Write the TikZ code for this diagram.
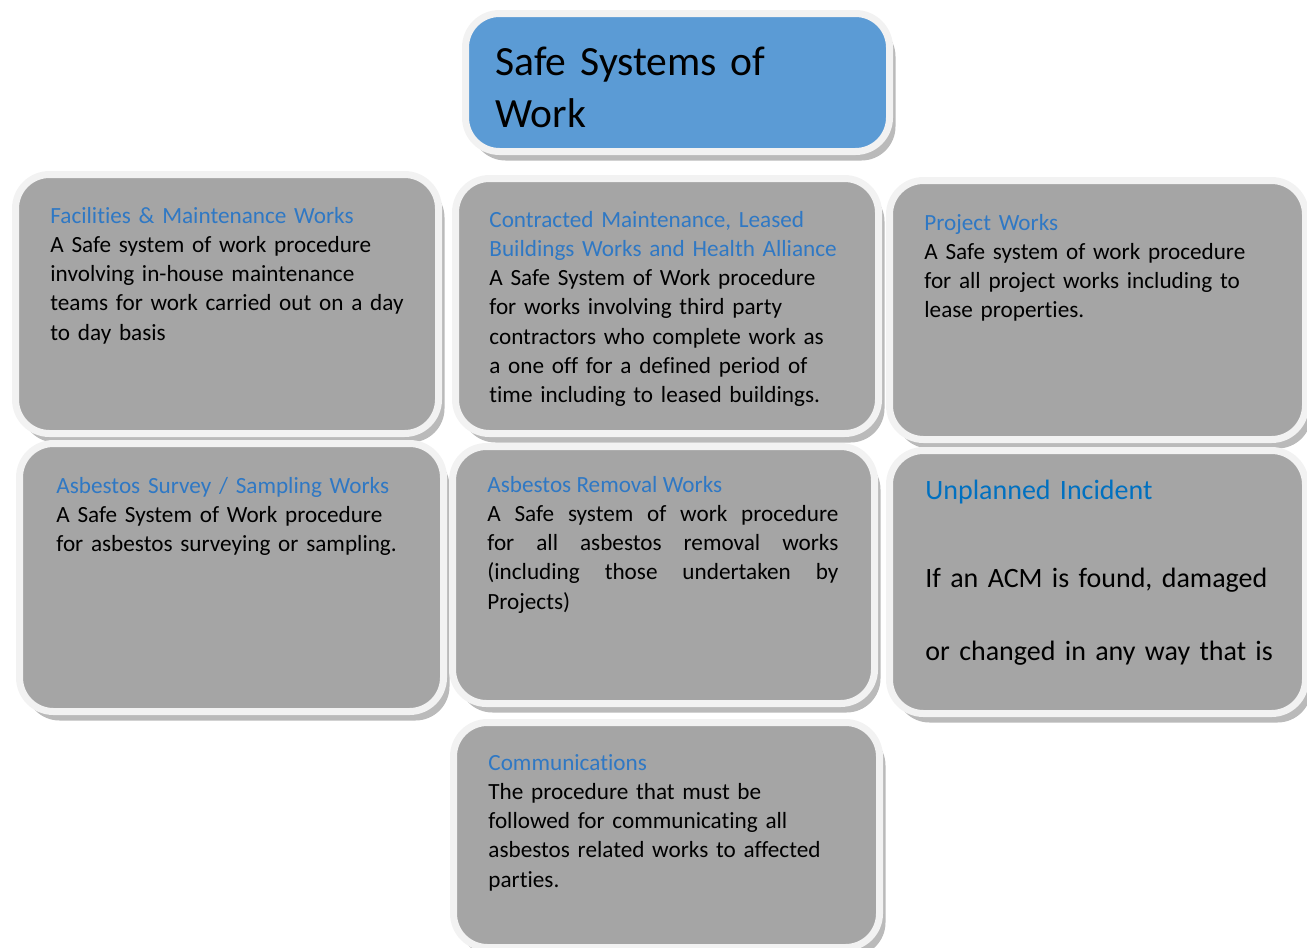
\documentclass[tikz,border=0pt]{standalone}
\usepackage{fontspec}
\setmainfont{Carlito}[Ligatures=NoCommon]
\usepackage{xcolor}
\usetikzlibrary{shadows}
\definecolor{panelgray}{HTML}{A5A5A5}
\definecolor{panelrim}{HTML}{F2F2F2}
\definecolor{titleblue}{HTML}{5B9BD5}
\definecolor{headblue}{HTML}{2F78C4}
\definecolor{incidentblue}{HTML}{0070C0}
\newcommand\panelhead[1]{\textcolor{headblue}{#1}}
\tikzset{
  panel/.style={
    draw=panelrim,
    line width=3.5pt,
    rounded corners=17pt,
    fill=panelgray,
    inner sep=0pt,
    outer sep=0pt,
    drop shadow={shadow xshift=3pt, shadow yshift=-4.5pt, fill=black!60, opacity=.45}
  },
  titlepanel/.style={
    panel,
    fill=titleblue
  },
  paneltext/.style={
    anchor=base west,
    inner sep=0pt,
    align=left,
    text width=205pt,
    font=\fontsize{11.6}{14.65}\selectfont
  },
  justtext/.style={
    paneltext,
    align=justify,
    text width=175.5pt
  }
}

\begin{document}
\begin{tikzpicture}[x=0.5pt,y=-0.5pt]
  \useasboundingbox (0,0) rectangle (1307,948);

  % panels
  \node[titlepanel, minimum width=212pt, minimum height=69pt] (title) at (677.5,82.5) {};
  \node[panel, minimum width=211.5pt, minimum height=129.5pt] (facilities) at (227,304) {};
  \node[panel, minimum width=211.5pt, minimum height=127.5pt] (contracted) at (667,306) {};
  \node[panel, minimum width=208pt, minimum height=129.5pt] (project) at (1097.5,310) {};
  \node[panel, minimum width=212pt, minimum height=134pt] (survey) at (231.5,577.5) {};
  \node[panel, minimum width=211pt, minimum height=128.5pt] (removal) at (663.5,575) {};
  \node[panel, minimum width=208pt, minimum height=131.5pt] (unplanned) at (1097.5,582) {};
  \node[panel, minimum width=213pt, minimum height=112.5pt] (comms) at (666.5,835) {};

  % texts
  \node[paneltext, font=\fontsize{20.8}{26}\selectfont] (titletext) at (495,75)
    {Safe Systems of\\Work};
  \node[paneltext] (facilitiestext) at (50,223)
    {\panelhead{Facilities \& Maintenance Works}\\
     A Safe system of work procedure\\
     involving in-house maintenance\\
     teams for work carried out on a day\\
     to day basis};
  \node[paneltext] (contractedtext) at (489,227)
    {\panelhead{Contracted Maintenance, Leased}\\
     \panelhead{Buildings Works and Health Alliance}\\
     A Safe System of Work procedure\\
     for works involving third party\\
     contractors who complete work as\\
     a one off for a defined period of\\
     time including to leased buildings.};
  \node[paneltext] (projecttext) at (924,230)
    {\panelhead{Project Works}\\
     A Safe system of work procedure\\
     for all project works including to\\
     lease properties.};
  \node[paneltext] (surveytext) at (56,493)
    {\panelhead{Asbestos Survey / Sampling Works}\\
     A Safe System of Work procedure\\
     for asbestos surveying or sampling.};
  \node[justtext] (removaltext) at (487,492)
    {\panelhead{Asbestos Removal Works}\\
     A Safe system of work procedure\linebreak
     for all asbestos removal works\linebreak
     (including those undertaken by\linebreak
     Projects)};
  \node[paneltext, font=\fontsize{14}{36.5}\selectfont] (unplannedtext) at (925,499)
    {\textcolor{incidentblue}{Unplanned Incident}\\[7.5pt]
     If an ACM is found, damaged\\
     or changed in any way that is};
  \node[paneltext] (commstext) at (488,770)
    {\panelhead{Communications}\\
     The procedure that must be\\
     followed for communicating all\\
     asbestos related works to affected\\
     parties.};
\end{tikzpicture}
\end{document}
